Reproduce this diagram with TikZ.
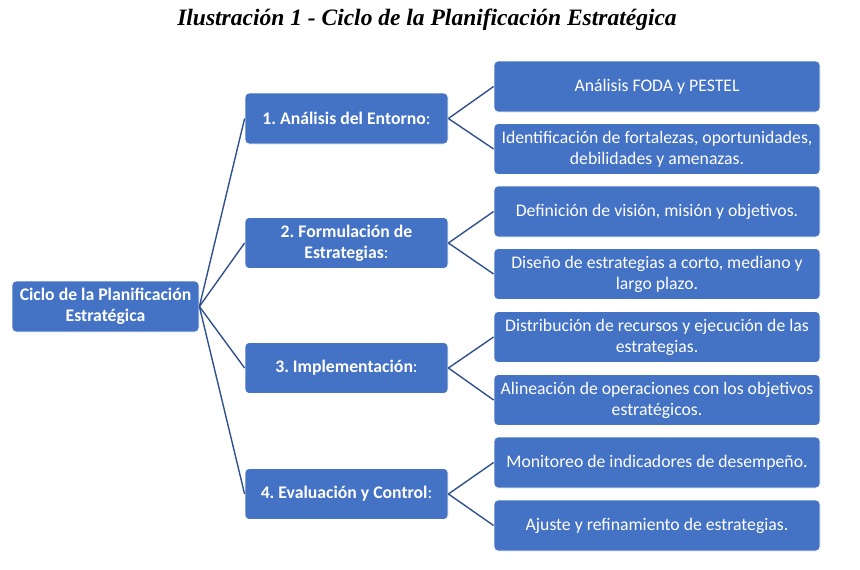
\documentclass[tikz,border=0pt]{standalone}
\usepackage{fontspec}
\setmainfont{Carlito}
\newfontfamily\titlefont{Liberation Serif}
\definecolor{boxblue}{HTML}{4472C4}
\definecolor{lineblue}{HTML}{2F528F}
\frenchspacing
\begin{document}
\begin{tikzpicture}[x=1pt,y=-1pt,
  box/.style={rectangle,rounded corners=4pt,fill=boxblue,draw=white,line width=0.8pt,
    text=white,align=center,inner sep=2pt,font=\fontsize{17.7}{21}\selectfont},
  rootbox/.style={box,minimum width=187pt,minimum height=51pt,font=\fontsize{17.7}{21}\selectfont\bfseries},
  midbox/.style={box,minimum width=203pt,minimum height=51pt},
  leafbox/.style={box,minimum width=326pt,minimum height=51pt},
  conn/.style={draw=lineblue,line width=1.4pt}]
\useasboundingbox (0,0) rectangle (860,570);
\node[font=\titlefont\fontsize{23.5}{28}\selectfont\bfseries\itshape] (title) at (427,19.5) {Ilustración 1 - Ciclo de la Planificación Estratégica};
\node[rootbox] (root) at (105.5,306.5) {Ciclo de la Planificación\\Estratégica};
\node[midbox] (m1) at (346.5,118.5) {\textbf{1. Análisis del Entorno}:};
\node[midbox] (m2) at (346.5,243) {\textbf{2. Formulación de}\\\textbf{Estrategias}:};
\node[midbox] (m3) at (346.5,368) {\textbf{3. Implementación}:};
\node[midbox] (m4) at (346.5,494) {\textbf{4. Evaluación y Control}:};
\node[leafbox] (l1) at (657,86.5) {Análisis FODA y PESTEL};
\node[leafbox] (l2) at (657,149) {Identificación de fortalezas, oportunidades,\\debilidades y amenazas.};
\node[leafbox] (l3) at (657,211.5) {Definición de visión, misión y objetivos.};
\node[leafbox] (l4) at (657,274) {Diseño de estrategias a corto, mediano y\\largo plazo.};
\node[leafbox] (l5) at (657,337) {Distribución de recursos y ejecución de las\\estrategias.};
\node[leafbox] (l6) at (657,400) {Alineación de operaciones con los objetivos\\estratégicos.};
\node[leafbox] (l7) at (657,462.5) {Monitoreo de indicadores de desempeño.};
\node[leafbox] (l8) at (657,525.5) {Ajuste y refinamiento de estrategias.};
\foreach \m in {m1,m2,m3,m4} \draw[conn] (root.east) -- (\m.west);
\draw[conn] (m1.east) -- (l1.west); \draw[conn] (m1.east) -- (l2.west);
\draw[conn] (m2.east) -- (l3.west); \draw[conn] (m2.east) -- (l4.west);
\draw[conn] (m3.east) -- (l5.west); \draw[conn] (m3.east) -- (l6.west);
\draw[conn] (m4.east) -- (l7.west); \draw[conn] (m4.east) -- (l8.west);
\end{tikzpicture}
\end{document}
